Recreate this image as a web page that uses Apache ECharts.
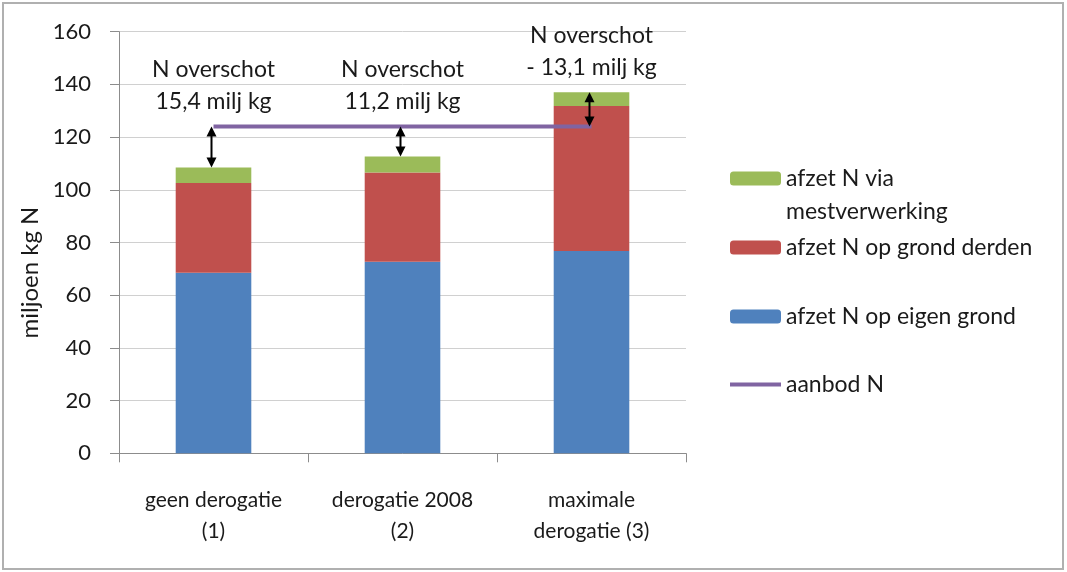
<!DOCTYPE html>
<html>
<head>
<meta charset="utf-8">
<script src="https://cdn.jsdelivr.net/npm/echarts@6/dist/echarts.min.js"></script>
<style>
  html, body { margin: 0; padding: 0; background: #fff; }
  #chart { width: 1067px; height: 572px; }
</style>
</head>
<body>
<div id="chart"></div>
<script>
// data (miljoen kg N)
var categories = ['geen derogatie\n(1)', 'derogatie 2008\n(2)', 'maximale\nderogatie (3)'];
var eigenGrond = [68.5, 72.7, 76.8];
var grondDerden = [34.1, 33.9, 55.0];
var mestverwerking = [5.9, 6.0, 5.2];
var aanbod = [124.0, 124.0, 124.0];
var overschot = [15.4, 11.2, -13.1];
var yTicks = [0, 160, 20]; // min, max, interval

var font = 'Lato';
var textColor = '#1a1a1a';

// double arrows between supply and total, plus the surplus text
var arrowData = categories.map(function (c, i) {
  var total = eigenGrond[i] + grondDerden[i] + mestverwerking[i];
  return [i, aanbod[i], total, overschot[i]];
});

function fmtOverschot(v) {
  return (v < 0 ? '- ' : '') + Math.abs(v).toFixed(1).replace('.', ',') + ' milj kg';
}

var myChart = echarts.init(document.getElementById('chart'));

var legendText = { fontFamily: font, fontSize: 23, color: textColor, lineHeight: 33 };
var legendBase = {
  orient: 'vertical',
  left: 725,
  itemWidth: 51,
  itemHeight: 14,
  textStyle: legendText,
  selectedMode: false
};

var option = {
  backgroundColor: '#fff',
  animation: false,
  graphic: [{
    type: 'rect',
    shape: { x: 3, y: 3, width: 1060, height: 566 },
    style: { fill: 'none', stroke: '#b0b0b0', lineWidth: 2 }
  }],
  legend: [
    Object.assign({}, legendBase, {
      top: 124,
      data: ['afzet N via\nmestverwerking'],
      // empty first line pushes the first text line level with the icon
      formatter: function (name) {
        var parts = name.split('\n');
        return '{e| }\n{a|' + parts[0] + '}\n{a|' + parts[1] + '}';
      },
      textStyle: Object.assign({}, legendText, {
        rich: {
          e: { fontSize: 23, lineHeight: 33 },
          a: { fontFamily: font, fontSize: 23, lineHeight: 33, color: textColor }
        }
      })
    }),
    Object.assign({}, legendBase, { top: 226, data: ['afzet N op grond derden'] }),
    Object.assign({}, legendBase, { top: 295, data: ['afzet N op eigen grond'] }),
    Object.assign({}, legendBase, {
      top: 363,
      itemHeight: 4,
      data: [{ name: 'aanbod N', icon: 'rect' }]
    })
  ],
  grid: { left: 119, right: 381, top: 31.7, bottom: 118.7 },
  xAxis: {
    type: 'category',
    data: categories,
    axisLine: { lineStyle: { color: '#8c8c8c', width: 1 } },
    axisTick: { show: true, length: 9, lineStyle: { color: '#8c8c8c' } },
    axisLabel: { fontFamily: font, fontSize: 21, color: textColor, lineHeight: 31, margin: 31 }
  },
  yAxis: {
    type: 'value',
    min: yTicks[0],
    max: yTicks[1],
    interval: yTicks[2],
    name: 'miljoen kg N',
    nameLocation: 'middle',
    nameGap: 76,
    nameTextStyle: { fontFamily: font, fontSize: 24, color: textColor, padding: [0, 60, 0, 0] },
    axisLine: { show: true, lineStyle: { color: '#8c8c8c', width: 1 } },
    axisTick: { show: true, length: 9, lineStyle: { color: '#8c8c8c' } },
    axisLabel: { fontFamily: font, fontSize: 22, color: textColor, margin: 28 },
    splitLine: { lineStyle: { color: '#d0d0d0', width: 1 } }
  },
  series: [
    {
      name: 'afzet N op eigen grond',
      type: 'bar',
      stack: 'afzet',
      barWidth: '40%',
      data: eigenGrond,
      itemStyle: { color: '#4f81bd' }
    },
    {
      name: 'afzet N op grond derden',
      type: 'bar',
      stack: 'afzet',
      data: grondDerden,
      itemStyle: { color: '#c0504d' }
    },
    {
      name: 'afzet N via\nmestverwerking',
      type: 'bar',
      stack: 'afzet',
      data: mestverwerking,
      itemStyle: { color: '#9bbb59' }
    },
    {
      name: 'aanbod N',
      type: 'line',
      data: aanbod,
      symbol: 'none',
      z: 3,
      lineStyle: { color: '#8064a2', width: 4 },
      itemStyle: { color: '#8064a2' }
    },
    {
      type: 'custom',
      z: 4,
      data: arrowData,
      encode: { x: 0, y: [1, 2] },
      renderItem: function (params, api) {
        var p1 = api.coord([api.value(0), api.value(1)]);
        var p2 = api.coord([api.value(0), api.value(2)]);
        var x = p1[0] - 2;
        var yTop = Math.min(p1[1], p2[1]);
        var yBot = Math.max(p1[1], p2[1]);
        var head = 10, hw = 5;
        return {
          type: 'group',
          children: [
            {
              type: 'line',
              shape: { x1: x, y1: yTop + head - 2, x2: x, y2: yBot - head + 2 },
              style: { stroke: '#000', lineWidth: 2 }
            },
            {
              type: 'polygon',
              shape: { points: [[x, yTop], [x - hw, yTop + head], [x + hw, yTop + head]] },
              style: { fill: '#000' }
            },
            {
              type: 'polygon',
              shape: { points: [[x, yBot], [x - hw, yBot - head], [x + hw, yBot - head]] },
              style: { fill: '#000' }
            },
            {
              type: 'text',
              style: {
                x: p1[0],
                y: yTop - 9,
                text: 'N overschot\n' + fmtOverschot(api.value(3)),
                fontFamily: font,
                fontSize: 23,
                lineHeight: 32,
                fill: textColor,
                align: 'center',
                verticalAlign: 'bottom'
              }
            }
          ]
        };
      }
    }
  ]
};

myChart.setOption(option);
window.addEventListener('resize', function () {
  myChart.resize();
});
</script>
</body>
</html>
